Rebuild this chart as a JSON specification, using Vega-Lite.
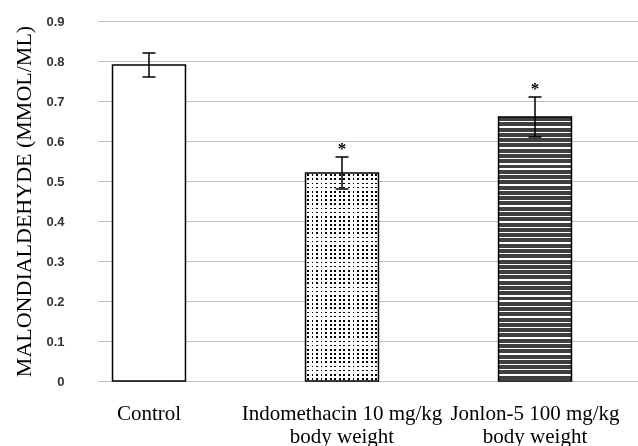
{
  "$schema": "https://vega.github.io/schema/vega-lite/v6.json",
  "width": 541,
  "height": 360,
  "padding": {"left": 12, "top": 15, "right": 0, "bottom": 0},
  "autosize": {"type": "pad"},
  "background": "white",
  "config": {"view": {"stroke": null}},
  "data": {"values": [
    {"group": "Control", "mean": 0.79, "lo": 0.76, "hi": 0.82, "sig": ""},
    {"group": "Indomethacin 10 mg/kg body weight", "mean": 0.52, "lo": 0.48, "hi": 0.56, "sig": "*"},
    {"group": "Jonlon-5 100 mg/kg body weight", "mean": 0.66, "lo": 0.61, "hi": 0.71, "sig": "*"}
  ]},
  "encoding": {
    "x": {
      "field": "group", "type": "nominal", "sort": null,
      "scale": {"paddingInner": 0.622, "paddingOuter": 0.2125, "align": 0.177},
      "axis": {
        "title": null,
        "labelExpr": "indexof(datum.value, ' body weight') > 0 ? [replace(datum.value, ' body weight', ''), 'body weight'] : datum.value",
        "labelFont": "Liberation Serif", "labelFontSize": 21, "labelColor": "#000",
        "labelAngle": 0, "labelPadding": 21, "labelLineHeight": 23,
        "labelLimit": 400, "labelOverlap": false,
        "domain": false, "ticks": false
      }
    },
    "y": {
      "field": "mean", "type": "quantitative",
      "title": "MALONDIALDEHYDE (MMOL/ML)",
      "scale": {"domain": [0, 0.9], "nice": false},
      "axis": {
        "values": [0, 0.1, 0.2, 0.3, 0.4, 0.5, 0.6, 0.7, 0.8, 0.9],
        "format": ".1~f",
        "labelFont": "Liberation Sans", "labelFontSize": 13, "labelFontWeight": "bold", "labelColor": "#333",
        "labelPadding": 34, "ticks": false, "tickSize": 0, "domain": false,
        "grid": true, "gridColor": "#bfbfbf", "gridWidth": 1,
        "titleFont": "Liberation Serif", "titleFontSize": 22, "titleFontWeight": "normal", "titleColor": "#000",
        "titlePadding": 10
      }
    }
  },
  "layer": [
    {
      "transform": [{"filter": "datum.group === 'Control'"}],
      "mark": {"type": "bar", "fill": "#ffffff"}
    },
    {
      "transform": [{"filter": "datum.group === 'Indomethacin 10 mg/kg body weight'"}],
      "mark": {"type": "bar", "fill": {"gradient": "linear", "x1": 0, "y1": 0, "x2": 0, "y2": 1, "stops": [
        {"offset":0.006,"color":"#fff"},{"offset":0.006,"color":"#000"},{"offset":0.014,"color":"#000"},{"offset":0.014,"color":"#fff"},
        {"offset":0.026,"color":"#fff"},{"offset":0.026,"color":"#000"},{"offset":0.034,"color":"#000"},{"offset":0.034,"color":"#fff"},
        {"offset":0.046,"color":"#fff"},{"offset":0.046,"color":"#000"},{"offset":0.054,"color":"#000"},{"offset":0.054,"color":"#fff"},
        {"offset":0.066,"color":"#fff"},{"offset":0.066,"color":"#000"},{"offset":0.074,"color":"#000"},{"offset":0.074,"color":"#fff"},
        {"offset":0.086,"color":"#fff"},{"offset":0.086,"color":"#000"},{"offset":0.094,"color":"#000"},{"offset":0.094,"color":"#fff"},
        {"offset":0.106,"color":"#fff"},{"offset":0.106,"color":"#000"},{"offset":0.114,"color":"#000"},{"offset":0.114,"color":"#fff"},
        {"offset":0.126,"color":"#fff"},{"offset":0.126,"color":"#000"},{"offset":0.134,"color":"#000"},{"offset":0.134,"color":"#fff"},
        {"offset":0.146,"color":"#fff"},{"offset":0.146,"color":"#000"},{"offset":0.154,"color":"#000"},{"offset":0.154,"color":"#fff"},
        {"offset":0.166,"color":"#fff"},{"offset":0.166,"color":"#000"},{"offset":0.174,"color":"#000"},{"offset":0.174,"color":"#fff"},
        {"offset":0.186,"color":"#fff"},{"offset":0.186,"color":"#000"},{"offset":0.194,"color":"#000"},{"offset":0.194,"color":"#fff"},
        {"offset":0.206,"color":"#fff"},{"offset":0.206,"color":"#000"},{"offset":0.214,"color":"#000"},{"offset":0.214,"color":"#fff"},
        {"offset":0.226,"color":"#fff"},{"offset":0.226,"color":"#000"},{"offset":0.234,"color":"#000"},{"offset":0.234,"color":"#fff"},
        {"offset":0.246,"color":"#fff"},{"offset":0.246,"color":"#000"},{"offset":0.254,"color":"#000"},{"offset":0.254,"color":"#fff"},
        {"offset":0.266,"color":"#fff"},{"offset":0.266,"color":"#000"},{"offset":0.274,"color":"#000"},{"offset":0.274,"color":"#fff"},
        {"offset":0.286,"color":"#fff"},{"offset":0.286,"color":"#000"},{"offset":0.294,"color":"#000"},{"offset":0.294,"color":"#fff"},
        {"offset":0.306,"color":"#fff"},{"offset":0.306,"color":"#000"},{"offset":0.314,"color":"#000"},{"offset":0.314,"color":"#fff"},
        {"offset":0.326,"color":"#fff"},{"offset":0.326,"color":"#000"},{"offset":0.334,"color":"#000"},{"offset":0.334,"color":"#fff"},
        {"offset":0.346,"color":"#fff"},{"offset":0.346,"color":"#000"},{"offset":0.354,"color":"#000"},{"offset":0.354,"color":"#fff"},
        {"offset":0.366,"color":"#fff"},{"offset":0.366,"color":"#000"},{"offset":0.374,"color":"#000"},{"offset":0.374,"color":"#fff"},
        {"offset":0.386,"color":"#fff"},{"offset":0.386,"color":"#000"},{"offset":0.394,"color":"#000"},{"offset":0.394,"color":"#fff"},
        {"offset":0.406,"color":"#fff"},{"offset":0.406,"color":"#000"},{"offset":0.414,"color":"#000"},{"offset":0.414,"color":"#fff"},
        {"offset":0.426,"color":"#fff"},{"offset":0.426,"color":"#000"},{"offset":0.434,"color":"#000"},{"offset":0.434,"color":"#fff"},
        {"offset":0.446,"color":"#fff"},{"offset":0.446,"color":"#000"},{"offset":0.454,"color":"#000"},{"offset":0.454,"color":"#fff"},
        {"offset":0.466,"color":"#fff"},{"offset":0.466,"color":"#000"},{"offset":0.474,"color":"#000"},{"offset":0.474,"color":"#fff"},
        {"offset":0.486,"color":"#fff"},{"offset":0.486,"color":"#000"},{"offset":0.494,"color":"#000"},{"offset":0.494,"color":"#fff"},
        {"offset":0.506,"color":"#fff"},{"offset":0.506,"color":"#000"},{"offset":0.514,"color":"#000"},{"offset":0.514,"color":"#fff"},
        {"offset":0.526,"color":"#fff"},{"offset":0.526,"color":"#000"},{"offset":0.534,"color":"#000"},{"offset":0.534,"color":"#fff"},
        {"offset":0.546,"color":"#fff"},{"offset":0.546,"color":"#000"},{"offset":0.554,"color":"#000"},{"offset":0.554,"color":"#fff"},
        {"offset":0.566,"color":"#fff"},{"offset":0.566,"color":"#000"},{"offset":0.574,"color":"#000"},{"offset":0.574,"color":"#fff"},
        {"offset":0.586,"color":"#fff"},{"offset":0.586,"color":"#000"},{"offset":0.594,"color":"#000"},{"offset":0.594,"color":"#fff"},
        {"offset":0.606,"color":"#fff"},{"offset":0.606,"color":"#000"},{"offset":0.614,"color":"#000"},{"offset":0.614,"color":"#fff"},
        {"offset":0.626,"color":"#fff"},{"offset":0.626,"color":"#000"},{"offset":0.634,"color":"#000"},{"offset":0.634,"color":"#fff"},
        {"offset":0.646,"color":"#fff"},{"offset":0.646,"color":"#000"},{"offset":0.654,"color":"#000"},{"offset":0.654,"color":"#fff"},
        {"offset":0.666,"color":"#fff"},{"offset":0.666,"color":"#000"},{"offset":0.674,"color":"#000"},{"offset":0.674,"color":"#fff"},
        {"offset":0.686,"color":"#fff"},{"offset":0.686,"color":"#000"},{"offset":0.694,"color":"#000"},{"offset":0.694,"color":"#fff"},
        {"offset":0.706,"color":"#fff"},{"offset":0.706,"color":"#000"},{"offset":0.714,"color":"#000"},{"offset":0.714,"color":"#fff"},
        {"offset":0.726,"color":"#fff"},{"offset":0.726,"color":"#000"},{"offset":0.734,"color":"#000"},{"offset":0.734,"color":"#fff"},
        {"offset":0.746,"color":"#fff"},{"offset":0.746,"color":"#000"},{"offset":0.754,"color":"#000"},{"offset":0.754,"color":"#fff"},
        {"offset":0.766,"color":"#fff"},{"offset":0.766,"color":"#000"},{"offset":0.774,"color":"#000"},{"offset":0.774,"color":"#fff"},
        {"offset":0.786,"color":"#fff"},{"offset":0.786,"color":"#000"},{"offset":0.794,"color":"#000"},{"offset":0.794,"color":"#fff"},
        {"offset":0.806,"color":"#fff"},{"offset":0.806,"color":"#000"},{"offset":0.814,"color":"#000"},{"offset":0.814,"color":"#fff"},
        {"offset":0.826,"color":"#fff"},{"offset":0.826,"color":"#000"},{"offset":0.834,"color":"#000"},{"offset":0.834,"color":"#fff"},
        {"offset":0.846,"color":"#fff"},{"offset":0.846,"color":"#000"},{"offset":0.854,"color":"#000"},{"offset":0.854,"color":"#fff"},
        {"offset":0.866,"color":"#fff"},{"offset":0.866,"color":"#000"},{"offset":0.874,"color":"#000"},{"offset":0.874,"color":"#fff"},
        {"offset":0.886,"color":"#fff"},{"offset":0.886,"color":"#000"},{"offset":0.894,"color":"#000"},{"offset":0.894,"color":"#fff"},
        {"offset":0.906,"color":"#fff"},{"offset":0.906,"color":"#000"},{"offset":0.914,"color":"#000"},{"offset":0.914,"color":"#fff"},
        {"offset":0.926,"color":"#fff"},{"offset":0.926,"color":"#000"},{"offset":0.934,"color":"#000"},{"offset":0.934,"color":"#fff"},
        {"offset":0.946,"color":"#fff"},{"offset":0.946,"color":"#000"},{"offset":0.954,"color":"#000"},{"offset":0.954,"color":"#fff"},
        {"offset":0.966,"color":"#fff"},{"offset":0.966,"color":"#000"},{"offset":0.974,"color":"#000"},{"offset":0.974,"color":"#fff"},
        {"offset":0.986,"color":"#fff"},{"offset":0.986,"color":"#000"},{"offset":0.994,"color":"#000"},{"offset":0.994,"color":"#fff"}
      ]}}
    },
    {
      "transform": [{"filter": "datum.group === 'Indomethacin 10 mg/kg body weight'"}],
      "mark": {"type": "bar", "blend": "screen", "fill": {"gradient": "linear", "x1": 0, "y1": 0, "x2": 1, "y2": 0, "stops": [
        {"offset":0.02,"color":"#fff"},{"offset":0.02,"color":"#000"},{"offset":0.045,"color":"#000"},{"offset":0.045,"color":"#fff"},
        {"offset":0.0825,"color":"#fff"},{"offset":0.0825,"color":"#000"},{"offset":0.1075,"color":"#000"},{"offset":0.1075,"color":"#fff"},
        {"offset":0.145,"color":"#fff"},{"offset":0.145,"color":"#000"},{"offset":0.17,"color":"#000"},{"offset":0.17,"color":"#fff"},
        {"offset":0.2075,"color":"#fff"},{"offset":0.2075,"color":"#000"},{"offset":0.2325,"color":"#000"},{"offset":0.2325,"color":"#fff"},
        {"offset":0.27,"color":"#fff"},{"offset":0.27,"color":"#000"},{"offset":0.295,"color":"#000"},{"offset":0.295,"color":"#fff"},
        {"offset":0.3325,"color":"#fff"},{"offset":0.3325,"color":"#000"},{"offset":0.3575,"color":"#000"},{"offset":0.3575,"color":"#fff"},
        {"offset":0.395,"color":"#fff"},{"offset":0.395,"color":"#000"},{"offset":0.42,"color":"#000"},{"offset":0.42,"color":"#fff"},
        {"offset":0.4575,"color":"#fff"},{"offset":0.4575,"color":"#000"},{"offset":0.4825,"color":"#000"},{"offset":0.4825,"color":"#fff"},
        {"offset":0.52,"color":"#fff"},{"offset":0.52,"color":"#000"},{"offset":0.545,"color":"#000"},{"offset":0.545,"color":"#fff"},
        {"offset":0.5825,"color":"#fff"},{"offset":0.5825,"color":"#000"},{"offset":0.6075,"color":"#000"},{"offset":0.6075,"color":"#fff"},
        {"offset":0.645,"color":"#fff"},{"offset":0.645,"color":"#000"},{"offset":0.67,"color":"#000"},{"offset":0.67,"color":"#fff"},
        {"offset":0.7075,"color":"#fff"},{"offset":0.7075,"color":"#000"},{"offset":0.7325,"color":"#000"},{"offset":0.7325,"color":"#fff"},
        {"offset":0.77,"color":"#fff"},{"offset":0.77,"color":"#000"},{"offset":0.795,"color":"#000"},{"offset":0.795,"color":"#fff"},
        {"offset":0.8325,"color":"#fff"},{"offset":0.8325,"color":"#000"},{"offset":0.8575,"color":"#000"},{"offset":0.8575,"color":"#fff"},
        {"offset":0.895,"color":"#fff"},{"offset":0.895,"color":"#000"},{"offset":0.92,"color":"#000"},{"offset":0.92,"color":"#fff"},
        {"offset":0.9575,"color":"#fff"},{"offset":0.9575,"color":"#000"},{"offset":0.9825,"color":"#000"},{"offset":0.9825,"color":"#fff"}
      ]}}
    },
    {
      "transform": [{"filter": "datum.group === 'Jonlon-5 100 mg/kg body weight'"}],
      "mark": {"type": "bar", "fill": {"gradient": "linear", "x1": 0, "y1": 0, "x2": 0, "y2": 1, "stops": [
        {"offset":0,"color":"#404040"},{"offset":0.015,"color":"#404040"},{"offset":0.015,"color":"#fff"},{"offset":0.02,"color":"#fff"},
        {"offset":0.02,"color":"#404040"},{"offset":0.035,"color":"#404040"},{"offset":0.035,"color":"#fff"},{"offset":0.04,"color":"#fff"},
        {"offset":0.04,"color":"#404040"},{"offset":0.055,"color":"#404040"},{"offset":0.055,"color":"#fff"},{"offset":0.06,"color":"#fff"},
        {"offset":0.06,"color":"#404040"},{"offset":0.075,"color":"#404040"},{"offset":0.075,"color":"#fff"},{"offset":0.08,"color":"#fff"},
        {"offset":0.08,"color":"#404040"},{"offset":0.095,"color":"#404040"},{"offset":0.095,"color":"#fff"},{"offset":0.1,"color":"#fff"},
        {"offset":0.1,"color":"#404040"},{"offset":0.115,"color":"#404040"},{"offset":0.115,"color":"#fff"},{"offset":0.12,"color":"#fff"},
        {"offset":0.12,"color":"#404040"},{"offset":0.135,"color":"#404040"},{"offset":0.135,"color":"#fff"},{"offset":0.14,"color":"#fff"},
        {"offset":0.14,"color":"#404040"},{"offset":0.155,"color":"#404040"},{"offset":0.155,"color":"#fff"},{"offset":0.16,"color":"#fff"},
        {"offset":0.16,"color":"#404040"},{"offset":0.175,"color":"#404040"},{"offset":0.175,"color":"#fff"},{"offset":0.18,"color":"#fff"},
        {"offset":0.18,"color":"#404040"},{"offset":0.195,"color":"#404040"},{"offset":0.195,"color":"#fff"},{"offset":0.2,"color":"#fff"},
        {"offset":0.2,"color":"#404040"},{"offset":0.215,"color":"#404040"},{"offset":0.215,"color":"#fff"},{"offset":0.22,"color":"#fff"},
        {"offset":0.22,"color":"#404040"},{"offset":0.235,"color":"#404040"},{"offset":0.235,"color":"#fff"},{"offset":0.24,"color":"#fff"},
        {"offset":0.24,"color":"#404040"},{"offset":0.255,"color":"#404040"},{"offset":0.255,"color":"#fff"},{"offset":0.26,"color":"#fff"},
        {"offset":0.26,"color":"#404040"},{"offset":0.275,"color":"#404040"},{"offset":0.275,"color":"#fff"},{"offset":0.28,"color":"#fff"},
        {"offset":0.28,"color":"#404040"},{"offset":0.295,"color":"#404040"},{"offset":0.295,"color":"#fff"},{"offset":0.3,"color":"#fff"},
        {"offset":0.3,"color":"#404040"},{"offset":0.315,"color":"#404040"},{"offset":0.315,"color":"#fff"},{"offset":0.32,"color":"#fff"},
        {"offset":0.32,"color":"#404040"},{"offset":0.335,"color":"#404040"},{"offset":0.335,"color":"#fff"},{"offset":0.34,"color":"#fff"},
        {"offset":0.34,"color":"#404040"},{"offset":0.355,"color":"#404040"},{"offset":0.355,"color":"#fff"},{"offset":0.36,"color":"#fff"},
        {"offset":0.36,"color":"#404040"},{"offset":0.375,"color":"#404040"},{"offset":0.375,"color":"#fff"},{"offset":0.38,"color":"#fff"},
        {"offset":0.38,"color":"#404040"},{"offset":0.395,"color":"#404040"},{"offset":0.395,"color":"#fff"},{"offset":0.4,"color":"#fff"},
        {"offset":0.4,"color":"#404040"},{"offset":0.415,"color":"#404040"},{"offset":0.415,"color":"#fff"},{"offset":0.42,"color":"#fff"},
        {"offset":0.42,"color":"#404040"},{"offset":0.435,"color":"#404040"},{"offset":0.435,"color":"#fff"},{"offset":0.44,"color":"#fff"},
        {"offset":0.44,"color":"#404040"},{"offset":0.455,"color":"#404040"},{"offset":0.455,"color":"#fff"},{"offset":0.46,"color":"#fff"},
        {"offset":0.46,"color":"#404040"},{"offset":0.475,"color":"#404040"},{"offset":0.475,"color":"#fff"},{"offset":0.48,"color":"#fff"},
        {"offset":0.48,"color":"#404040"},{"offset":0.495,"color":"#404040"},{"offset":0.495,"color":"#fff"},{"offset":0.5,"color":"#fff"},
        {"offset":0.5,"color":"#404040"},{"offset":0.515,"color":"#404040"},{"offset":0.515,"color":"#fff"},{"offset":0.52,"color":"#fff"},
        {"offset":0.52,"color":"#404040"},{"offset":0.535,"color":"#404040"},{"offset":0.535,"color":"#fff"},{"offset":0.54,"color":"#fff"},
        {"offset":0.54,"color":"#404040"},{"offset":0.555,"color":"#404040"},{"offset":0.555,"color":"#fff"},{"offset":0.56,"color":"#fff"},
        {"offset":0.56,"color":"#404040"},{"offset":0.575,"color":"#404040"},{"offset":0.575,"color":"#fff"},{"offset":0.58,"color":"#fff"},
        {"offset":0.58,"color":"#404040"},{"offset":0.595,"color":"#404040"},{"offset":0.595,"color":"#fff"},{"offset":0.6,"color":"#fff"},
        {"offset":0.6,"color":"#404040"},{"offset":0.615,"color":"#404040"},{"offset":0.615,"color":"#fff"},{"offset":0.62,"color":"#fff"},
        {"offset":0.62,"color":"#404040"},{"offset":0.635,"color":"#404040"},{"offset":0.635,"color":"#fff"},{"offset":0.64,"color":"#fff"},
        {"offset":0.64,"color":"#404040"},{"offset":0.655,"color":"#404040"},{"offset":0.655,"color":"#fff"},{"offset":0.66,"color":"#fff"},
        {"offset":0.66,"color":"#404040"},{"offset":0.675,"color":"#404040"},{"offset":0.675,"color":"#fff"},{"offset":0.68,"color":"#fff"},
        {"offset":0.68,"color":"#404040"},{"offset":0.695,"color":"#404040"},{"offset":0.695,"color":"#fff"},{"offset":0.7,"color":"#fff"},
        {"offset":0.7,"color":"#404040"},{"offset":0.715,"color":"#404040"},{"offset":0.715,"color":"#fff"},{"offset":0.72,"color":"#fff"},
        {"offset":0.72,"color":"#404040"},{"offset":0.735,"color":"#404040"},{"offset":0.735,"color":"#fff"},{"offset":0.74,"color":"#fff"},
        {"offset":0.74,"color":"#404040"},{"offset":0.755,"color":"#404040"},{"offset":0.755,"color":"#fff"},{"offset":0.76,"color":"#fff"},
        {"offset":0.76,"color":"#404040"},{"offset":0.775,"color":"#404040"},{"offset":0.775,"color":"#fff"},{"offset":0.78,"color":"#fff"},
        {"offset":0.78,"color":"#404040"},{"offset":0.795,"color":"#404040"},{"offset":0.795,"color":"#fff"},{"offset":0.8,"color":"#fff"},
        {"offset":0.8,"color":"#404040"},{"offset":0.815,"color":"#404040"},{"offset":0.815,"color":"#fff"},{"offset":0.82,"color":"#fff"},
        {"offset":0.82,"color":"#404040"},{"offset":0.835,"color":"#404040"},{"offset":0.835,"color":"#fff"},{"offset":0.84,"color":"#fff"},
        {"offset":0.84,"color":"#404040"},{"offset":0.855,"color":"#404040"},{"offset":0.855,"color":"#fff"},{"offset":0.86,"color":"#fff"},
        {"offset":0.86,"color":"#404040"},{"offset":0.875,"color":"#404040"},{"offset":0.875,"color":"#fff"},{"offset":0.88,"color":"#fff"},
        {"offset":0.88,"color":"#404040"},{"offset":0.895,"color":"#404040"},{"offset":0.895,"color":"#fff"},{"offset":0.9,"color":"#fff"},
        {"offset":0.9,"color":"#404040"},{"offset":0.915,"color":"#404040"},{"offset":0.915,"color":"#fff"},{"offset":0.92,"color":"#fff"},
        {"offset":0.92,"color":"#404040"},{"offset":0.935,"color":"#404040"},{"offset":0.935,"color":"#fff"},{"offset":0.94,"color":"#fff"},
        {"offset":0.94,"color":"#404040"},{"offset":0.955,"color":"#404040"},{"offset":0.955,"color":"#fff"},{"offset":0.96,"color":"#fff"},
        {"offset":0.96,"color":"#404040"},{"offset":0.975,"color":"#404040"},{"offset":0.975,"color":"#fff"},{"offset":0.98,"color":"#fff"},
        {"offset":0.98,"color":"#404040"},{"offset":0.995,"color":"#404040"},{"offset":0.995,"color":"#fff"},{"offset":1,"color":"#fff"}
      ]}}
    },
    {
      "mark": {"type": "bar", "fillOpacity": 0, "stroke": "#000", "strokeWidth": 1.5}
    },
    {
      "mark": {"type": "rule", "color": "#000", "strokeWidth": 1.5},
      "encoding": {
        "y": {"field": "lo", "type": "quantitative", "title": "MALONDIALDEHYDE (MMOL/ML)"},
        "y2": {"field": "hi"}
      }
    },
    {
      "mark": {"type": "tick", "orient": "horizontal", "size": 13, "thickness": 1.5, "color": "#000", "opacity": 1},
      "encoding": {
        "y": {"field": "lo", "type": "quantitative", "title": "MALONDIALDEHYDE (MMOL/ML)"}
      }
    },
    {
      "mark": {"type": "tick", "orient": "horizontal", "size": 13, "thickness": 1.5, "color": "#000", "opacity": 1},
      "encoding": {
        "y": {"field": "hi", "type": "quantitative", "title": "MALONDIALDEHYDE (MMOL/ML)"}
      }
    },
    {
      "mark": {"type": "text", "font": "Liberation Serif", "fontSize": 17, "fontWeight": "bold", "baseline": "alphabetic", "dy": -3, "color": "#000"},
      "encoding": {
        "y": {"field": "hi", "type": "quantitative", "title": "MALONDIALDEHYDE (MMOL/ML)"},
        "text": {"field": "sig"}
      }
    }
  ]
}
